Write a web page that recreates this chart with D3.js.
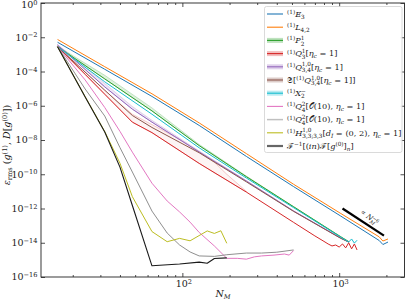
<!DOCTYPE html>
<html><head><meta charset="utf-8">
<script src="https://cdn.jsdelivr.net/npm/d3@7"></script>
<style>
body{margin:0;background:#fff}
svg text{white-space:pre}
</style></head><body>
<svg id="chart" width="407" height="300"></svg>
<script>
// N_M sample points and error values
const nE3 = [16, 32, 64, 128, 256, 512, 1024, 1800, 1900, 2048];
const vE3 = [5.1e-3, 1.35e-4, 3.5e-6, 7.1e-8, 1.1e-9, 1.9e-11, 3.6e-13, 1.35e-14, 7.9e-15, 1.1e-14];
const nL42 = [16, 32, 64, 128, 256, 512, 1024, 1800, 1900, 2048];
const vL42 = [7.4e-3, 1.9e-4, 5.0e-6, 1.0e-7, 1.6e-9, 2.6e-11, 5.1e-13, 2.2e-14, 1.26e-14, 1.66e-14];
const nP21 = [16, 32, 64, 128, 256, 512, 1024, 1150];
const vP21 = [2.8e-3, 3.7e-5, 5.0e-7, 4.7e-9, 7.2e-11, 1.26e-12, 2.2e-14, 1.15e-14];
const hiP21 = [3.0e-3, 6.0e-5, 7.5e-7, 5.5e-9, 7.8e-11, 1.3e-12, 2.3e-14, 1.2e-14];
const nQ31 = [16, 24, 32, 48, 64, 128, 256, 512, 700, 800, 850, 900, 950, 1000, 1050, 1100, 1150, 1200, 1250, 1300];
const vQ31 = [2.8e-3, 6.8e-5, 4.7e-6, 1.1e-7, 2.7e-8, 4.3e-10, 9.1e-12, 1.55e-13, 2.5e-14, 1.2e-14,
  8.5e-15, 6.5e-15, 7.4e-15, 5.6e-15, 8.5e-15, 5.0e-15, 1.0e-14, 4.4e-15, 8.5e-15, 3.8e-15];
const nQ31hi = [16, 32, 48, 64, 96, 128, 160, 192, 256];
const hiQ31 = [3.2e-3, 7.9e-6, 3.2e-7, 7.9e-8, 1.1e-8, 2.0e-9, 5.0e-10, 1.0e-10, 1.0e-11];
const loQ31 = [2.8e-3, 4.7e-6, 1.1e-7, 2.7e-8, 2.4e-9, 4.3e-10, 1.2e-10, 4.5e-11, 9.1e-12];
const nQ34 = [16, 32, 48, 64, 128, 256, 512, 1024, 1150];
const vQ34 = [3.5e-3, 1.26e-5, 6.3e-7, 1.1e-7, 2.0e-9, 4.0e-11, 7.1e-13, 1.86e-14, 1.1e-14];
const hiQ34 = [3.8e-3, 2.0e-5, 9.0e-7, 1.4e-7, 2.3e-9, 4.3e-11, 7.4e-13, 1.9e-14, 1.1e-14];
const nSQ34 = [16, 32, 48, 64, 128, 256, 512, 1024, 1150];
const vSQ34 = [2.8e-3, 8.1e-6, 2.7e-7, 5.4e-8, 1.8e-9, 3.6e-11, 6.8e-13, 1.8e-14, 1.1e-14];
const nX2 = [16, 32, 64, 128, 256, 512, 1024, 1100, 1150, 1200, 1250, 1300];
const vX2 = [2.8e-3, 2.5e-5, 3.2e-7, 3.5e-9, 6.0e-11, 1.12e-12, 2.1e-14, 1.4e-14, 1.1e-14, 1.66e-14, 9.5e-15, 1.4e-14];
const nQ42a = [16, 24, 32, 40, 48, 64, 80, 96, 112, 128, 160, 192, 224, 256, 288, 320, 384, 448, 480, 512];
const vQ42a = [2.8e-3, 3.2e-5, 7.9e-7, 3.2e-8, 1.95e-9, 3.0e-11, 2.75e-12, 6.3e-13, 1.6e-13, 4.0e-14,
  6.5e-15, 1.23e-15, 1.23e-15, 1.1e-15, 1.5e-15, 1.7e-15, 1.9e-15, 2.2e-15, 1.9e-15, 3.5e-15];
const nQ42b = [16, 24, 32, 40, 48, 64, 80, 96, 112, 128, 160, 192, 256, 320, 400, 512];
const vQ42b = [2.8e-3, 9.5e-6, 2.5e-7, 3.6e-9, 1.35e-10, 7.1e-13, 3.7e-14, 7.4e-15, 2.9e-15, 1.7e-15,
  1.6e-15, 2.0e-15, 2.5e-15, 2.5e-15, 2.8e-15, 3.8e-15];
const nH33 = [16, 24, 32, 40, 48, 64, 80, 96, 112, 144, 160, 176, 192];
const vH33 = [2.8e-3, 3.4e-6, 3.1e-8, 4.4e-10, 4.9e-12, 4.5e-14, 1.15e-14, 1.8e-14, 1.3e-14, 4.9e-14, 3.5e-14, 5.0e-14, 9.3e-15];
const nF = [16, 24, 32, 40, 48, 64, 96, 128, 144, 160, 192];
const vF = [2.8e-3, 3.2e-6, 2.9e-8, 2.6e-10, 1.5e-12, 4.5e-16, 5.8e-16, 7.4e-16, 6.3e-16, 1.2e-15, 1.3e-15];
// reference slope  ∝ N_M^-6
const refN = [1050, 1930];
const refV = [1.0e-12, 2.6e-14];

const yTicks = [1e0, 1e-2, 1e-4, 1e-6, 1e-8, 1e-10, 1e-12, 1e-14, 1e-16];
const xTicks = [1e2, 1e3];

const FONT = '"DejaVu Serif", "Liberation Serif", serif';
const svg = d3.select('#chart');
const pLeft = 41, pRight = 404.5, pTop = 3, pBottom = 277;

const x = d3.scaleLog().domain([Math.pow(10, 1.0986), Math.pow(10, 3.4165)]).range([pLeft, pRight]);
const y = d3.scaleLog().domain([1e-16, 1]).range([pBottom, pTop]);

// small helper for TeX-like labels: base text, sub/superscripts and stacked scripts
function mathText(parent, x0, y0, parts, fs, anchor) {
  const g = parent.append('g');
  let cx = 0;
  const put = (t, px, dy, size, it) => {
    const el = g.append('text').attr('x', px).attr('y', dy)
      .attr('font-family', FONT).attr('fill', '#1a1a1a')
      .style('font-size', size + 'px').style('font-style', it ? 'italic' : 'normal').text(t);
    return el.node().getComputedTextLength();
  };
  const s = fs * 0.7;
  parts.forEach(p => {
    if (Array.isArray(p)) {
      const [t, k] = p;
      if (k === 'r') cx += put(t, cx, 0, fs, false);
      else if (k === 'i') cx += put(t, cx, 0, fs, true);
      else if (k === '^') cx += put(t, cx, -fs * 0.34, s, false);
      else if (k === '^i') cx += put(t, cx, -fs * 0.34, s, true);
      else if (k === '_') cx += put(t, cx, fs * 0.24, s, false);
      else if (k === '_i') cx += put(t, cx, fs * 0.24, s, true);
    } else {
      const w1 = put(p.s, cx, -fs * 0.38, s, !!p.si);
      const w2 = put(p.b, cx, fs * 0.3, s, !!p.bi);
      cx += Math.max(w1, w2);
    }
  });
  let dx = 0;
  if (anchor === 'middle') dx = -cx / 2;
  if (anchor === 'end') dx = -cx;
  g.attr('transform', `translate(${x0 + dx},${y0})`);
  return g;
}

// lines
const line = d3.line().x(d => x(d[0])).y(d => y(d[1]));
const band = d3.area().x(d => x(d[0])).y0(d => y(d[1])).y1(d => y(d[2]));
const zip = (ns, vs) => ns.map((n, i) => [n, vs[i]]);
const zip3 = (ns, lo, hi) => ns.map((n, i) => [n, lo[i], hi[i]]);

const plot = svg.append('g');
const bands = [
  {d: zip3(nP21, vP21, hiP21), c: '#2ca02c', o: 0.15},
  {d: zip3(nQ31hi, loQ31, hiQ31), c: '#d62728', o: 0.05},
  {d: zip3(nQ34, vQ34, hiQ34), c: '#9467bd', o: 0.15}
];
bands.forEach(b => {
  plot.append('path').datum(b.d).attr('d', band)
    .attr('fill', b.c).attr('fill-opacity', b.o)
    .attr('stroke', b.c).attr('stroke-opacity', 0.35).attr('stroke-width', 0.7);
});

const series = [
  {d: zip(nE3, vE3), c: '#1f77b4', w: 1},
  {d: zip(nL42, vL42), c: '#ff7f0e', w: 1},
  {d: zip(nP21, vP21), c: '#2ca02c', w: 1},
  {d: zip(nQ31, vQ31), c: '#d62728', w: 1},
  {d: zip(nQ34, vQ34), c: '#9467bd', w: 1},
  {d: zip(nSQ34, vSQ34), c: '#8c564b', w: 1},
  {d: zip(nX2, vX2), c: '#17becf', w: 1},
  {d: zip(nQ42a, vQ42a), c: '#e377c2', w: 1},
  {d: zip(nQ42b, vQ42b), c: '#8f8f8f', w: 1},
  {d: zip(nH33, vH33), c: '#bcbd22', w: 1},
  {d: zip(nF, vF), c: '#1a1a1a', w: 1.1}
];
series.forEach(s => {
  plot.append('path').datum(s.d).attr('d', line)
    .attr('fill', 'none').attr('stroke', s.c).attr('stroke-width', s.w)
    .attr('stroke-linejoin', 'round');
});

// reference slope
plot.append('path').datum(zip(refN, refV)).attr('d', line)
  .attr('stroke', '#000').attr('stroke-width', 2.2).attr('fill', 'none');
const rx = x(1530), ry = y(2.4e-13);
const rl = mathText(plot, 0, 0, [['∝ ', 'r'], ['N', 'i'], {s: '−6', b: 'M', bi: true}], 7, 'middle');
rl.attr('transform', `translate(${rx},${ry}) rotate(38) ${rl.attr('transform')}`);

// axes: inward ticks on all four sides
const tickStyle = g => {
  g.select('.domain').remove();
  g.selectAll('line').attr('stroke', '#222').attr('stroke-width', 0.8);
};
const xMinor = [];
[10, 100, 1000].forEach(d => d3.range(2, 10).forEach(k => {
  const v = k * d;
  if (v > x.domain()[0] && v < x.domain()[1]) xMinor.push(v);
}));
[['b', pBottom], ['t', pTop]].forEach(([side, pos]) => {
  const mk = side === 'b' ? d3.axisBottom : d3.axisTop;
  svg.append('g').attr('transform', `translate(0,${pos})`)
    .call(mk(x).tickValues(xTicks).tickSize(-4).tickFormat(() => '')).call(tickStyle);
  svg.append('g').attr('transform', `translate(0,${pos})`)
    .call(mk(x).tickValues(xMinor).tickSize(-2).tickFormat(() => '')).call(tickStyle);
});
svg.append('g').attr('transform', `translate(${pLeft},0)`)
  .call(d3.axisLeft(y).tickValues(yTicks).tickSize(-4).tickFormat(() => '')).call(tickStyle);
svg.append('g').attr('transform', `translate(${pRight},0)`)
  .call(d3.axisRight(y).tickValues(yTicks).tickSize(-4).tickFormat(() => '')).call(tickStyle);

svg.append('rect').attr('x', pLeft).attr('y', pTop)
  .attr('width', pRight - pLeft).attr('height', pBottom - pTop)
  .attr('fill', 'none').attr('stroke', '#222').attr('stroke-width', 0.9);

// tick labels
yTicks.forEach(v => {
  const e = Math.round(Math.log10(v));
  mathText(svg, pLeft - 3.5, Math.max(y(v) + 3.4, 8.3), [['10', 'r'], [e === 0 ? '0' : '−' + (-e), '^']], 9.5, 'end');
});
xTicks.forEach(v => {
  const e = Math.round(Math.log10(v));
  mathText(svg, x(v) + 1.5, pBottom + 10, [['10', 'r'], [String(e), '^']], 9.5, 'middle');
});

// axis titles
mathText(svg, 223, 297, [['N', 'i'], ['M', '_i']], 9.5, 'middle');
const yl = mathText(svg, 0, 0, [['ε', 'i'], ['rms', '_'], [' (', 'r'], ['g', 'i'], ['(1)', '^'], [', ', 'r'],
  ['D', 'i'], ['[', 'r'], ['g', 'i'], ['(0)', '^'], ['])', 'r']], 9.5, 'middle');
yl.attr('transform', `translate(10,145) rotate(-90) ${yl.attr('transform')}`);

// legend
const EQ = '\u2004=\u2004';
const legendNames = [
  [['(1)', '^'], ['E', 'i'], ['3', '_']],
  [['(1)', '^'], ['L', 'i'], ['4,2', '_']],
  [['(1)', '^'], ['P', 'i'], {s: '1', b: '2'}],
  [['(1)', '^'], ['Q', 'i'], {s: '1', b: '3'}, ['[', 'r'], ['η', 'i'], ['c', '_i'], [EQ + '1]', 'r']],
  [['(1)', '^'], ['Q', 'i'], {s: '1,0', b: '3,4'}, ['[', 'r'], ['η', 'i'], ['c', '_i'], [EQ + '1]', 'r']],
  [['𝔖[', 'r'], ['(1)', '^'], ['Q', 'i'], {s: '1,0', b: '3,4'}, ['[', 'r'], ['η', 'i'], ['c', '_i'], [EQ + '1]]', 'r']],
  [['(1)', '^'], ['X', 'i'], {s: '−', b: '2'}],
  [['(1)', '^'], ['Q', 'i'], {s: '2', b: '4'}, ['[𝒪(10), ', 'r'], ['η', 'i'], ['c', '_i'], [EQ + '1]', 'r']],
  [['(1)', '^'], ['Q', 'i'], {s: '2', b: '4'}, ['[𝒪(10), ', 'r'], ['η', 'i'], ['c', '_i'], [EQ + '1]', 'r']],
  [['(1)', '^'], ['H', 'i'], {s: '1,0', b: '3,3;3,3'}, ['[', 'r'], ['d', 'i'], ['I', '_i'],
    [EQ + '(0, 2), ', 'r'], ['η', 'i'], ['c', '_i'], [EQ + '1]', 'r']],
  [['ℱ', 'r'], ['−1', '^'], ['[(', 'r'], ['in', 'i'], [')ℱ[', 'r'], ['g', 'i'], ['(0)', '^'], [']', 'r'],
    ['n', '_i'], [']', 'r']]
];
const legendColors = ['#1f77b4', '#ff7f0e', '#2ca02c', '#d62728', '#9467bd', '#8c564b', '#17becf',
  '#e377c2', '#c0c0c0', '#bcbd22', '#666'];
const legendBand = [false, false, true, true, true, true, true, false, false, false, false];

const lg = svg.append('g');
lg.append('rect').attr('x', 264.5).attr('y', 6.5).attr('width', 137.5).attr('height', 146)
  .attr('rx', 2).attr('fill', '#fff').attr('fill-opacity', 0.85)
  .attr('stroke', '#d0d0d0').attr('stroke-width', 0.8);
legendNames.forEach((nm, i) => {
  const cy = 14 + i * 13.2;
  if (legendBand[i]) {
    lg.append('rect').attr('x', 267).attr('y', cy - 2.5).attr('width', 16).attr('height', 5)
      .attr('fill', legendColors[i]).attr('fill-opacity', 0.3);
  }
  lg.append('line').attr('x1', 267).attr('x2', 283).attr('y1', cy).attr('y2', cy)
    .attr('stroke', legendColors[i]).attr('stroke-width', i === 10 ? 2.2 : (i === 8 ? 1.5 : 1.1));
  mathText(lg, 287, cy + 2.8, nm, 8.2, 'start');
});
</script></body></html>
